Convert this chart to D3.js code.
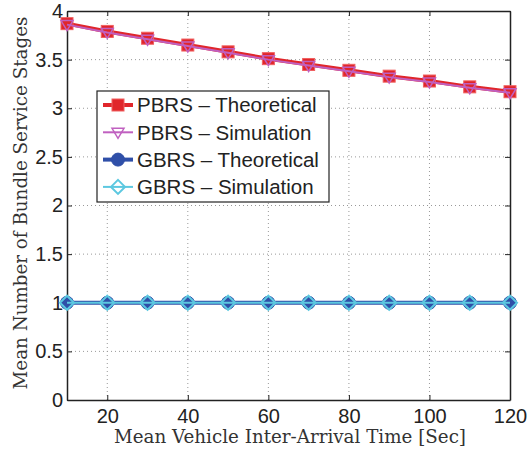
<!DOCTYPE html>
<html lang="en">
<head>
    <meta charset="UTF-8">
    <title>Mean Number of Bundle Service Stages</title>
    <script src="https://d3js.org/d3.v7.min.js"></script>
    <style>
        body { margin: 0; background: #fff; }
        .tick text { font-family: "Liberation Sans", Arial, sans-serif; font-size: 20px; fill: #222; }
        .axis-label { font-family: "DejaVu Serif", "Liberation Serif", serif; font-size: 18.3px; fill: #333; }
        .legend text { font-family: "Liberation Sans", Arial, sans-serif; font-size: 20.5px; fill: #222; }
        .grid line { stroke: #999; stroke-dasharray: 1,3; stroke-width: 1; }
    </style>
</head>
<body>
    <svg width="530" height="454"></svg>
    <script>
        // data
        const arrival = [10, 20, 30, 40, 50, 60, 70, 80, 90, 100, 110, 120];
        const pbrsTheory = [3.87, 3.79, 3.72, 3.65, 3.58, 3.51, 3.45, 3.39, 3.33, 3.28, 3.22, 3.17];
        const pbrsSim = [3.86, 3.78, 3.71, 3.64, 3.57, 3.50, 3.44, 3.38, 3.32, 3.27, 3.21, 3.16];
        const gbrsTheory = [1, 1, 1, 1, 1, 1, 1, 1, 1, 1, 1, 1];
        const gbrsSim = [1, 1, 1, 1, 1, 1, 1, 1, 1, 1, 1, 1];
        const xTicks = [20, 40, 60, 80, 100, 120];
        const yTicks = [0, 0.5, 1, 1.5, 2, 2.5, 3, 3.5, 4];

        const series = [
            { name: "PBRS \u2013 Theoretical", values: pbrsTheory, color: "#e0262b", width: 4, marker: "square" },
            { name: "PBRS \u2013 Simulation", values: pbrsSim, color: "#c060c0", width: 2, marker: "triangleDown" },
            { name: "GBRS \u2013 Theoretical", values: gbrsTheory, color: "#2f4fa8", width: 4, marker: "circle" },
            { name: "GBRS \u2013 Simulation", values: gbrsSim, color: "#5cc8e0", width: 2, marker: "diamond" }
        ];

        const svg = d3.select("svg");
        const m = { left: 67, right: 510, top: 11, bottom: 400 };

        const x = d3.scaleLinear().domain([10, 120]).range([m.left, m.right]);
        const y = d3.scaleLinear().domain([0, 4]).range([m.bottom, m.top]);

        // grid
        const grid = svg.append("g").attr("class", "grid");
        grid.selectAll(".gx").data(xTicks.filter(d => d < 120)).enter().append("line")
            .attr("x1", d => x(d)).attr("x2", d => x(d)).attr("y1", m.top).attr("y2", m.bottom);
        grid.selectAll(".gy").data(yTicks.filter(d => d > 0 && d < 4)).enter().append("line")
            .attr("x1", m.left).attr("x2", m.right).attr("y1", d => y(d)).attr("y2", d => y(d));

        // axes
        const fmt = d => String(d);
        svg.append("g").attr("transform", `translate(0,${m.bottom})`)
            .call(d3.axisBottom(x).tickValues(xTicks).tickFormat(fmt).tickSizeInner(-5).tickSizeOuter(0).tickPadding(9));
        svg.append("g").attr("transform", `translate(${m.left},0)`)
            .call(d3.axisLeft(y).tickValues(yTicks).tickFormat(fmt).tickSizeInner(-5).tickSizeOuter(0).tickPadding(4));
        svg.append("g").attr("transform", `translate(0,${m.top})`)
            .call(d3.axisTop(x).tickValues(xTicks).tickSizeInner(-5).tickSizeOuter(0).tickFormat(""));
        svg.append("g").attr("transform", `translate(${m.right},0)`)
            .call(d3.axisRight(y).tickValues(yTicks).tickSizeInner(-5).tickSizeOuter(0).tickFormat(""));
        svg.selectAll(".domain").attr("stroke", "#222").attr("stroke-width", 1.5);
        svg.selectAll(".tick line").attr("stroke", "#222");

        // markers
        function drawMarker(g, type, color, cx, cy) {
            if (type === "square") {
                g.append("rect").attr("x", cx - 6).attr("y", cy - 6).attr("width", 12).attr("height", 12)
                    .attr("fill", color).attr("stroke", "#f06060").attr("stroke-width", 1);
            } else if (type === "triangleDown") {
                g.append("path").attr("d", `M${cx - 6},${cy - 4}L${cx + 6},${cy - 4}L${cx},${cy + 6}Z`)
                    .attr("fill", "none").attr("stroke", color).attr("stroke-width", 1.5);
            } else if (type === "circle") {
                g.append("circle").attr("cx", cx).attr("cy", cy).attr("r", 6.5)
                    .attr("fill", color).attr("stroke", color).attr("stroke-width", 1);
            } else if (type === "diamond") {
                g.append("path").attr("d", `M${cx},${cy - 7}L${cx + 7},${cy}L${cx},${cy + 7}L${cx - 7},${cy}Z`)
                    .attr("fill", "none").attr("stroke", color).attr("stroke-width", 2);
            }
        }

        const line = d3.line().x(d => x(d[0])).y(d => y(d[1]));
        series.forEach(s => {
            const pts = arrival.map((a, i) => [a, s.values[i]]);
            const g = svg.append("g");
            g.append("path").datum(pts).attr("d", line)
                .attr("fill", "none").attr("stroke", s.color).attr("stroke-width", s.width);
            pts.forEach(p => drawMarker(g, s.marker, s.color, x(p[0]), y(p[1])));
        });

        // legend
        const legend = svg.append("g").attr("class", "legend");
        legend.append("rect").attr("x", 97).attr("y", 91).attr("width", 232).attr("height", 111)
            .attr("fill", "#fff").attr("stroke", "#222").attr("stroke-width", 1.2);
        series.forEach((s, i) => {
            const ly = 105 + i * 27.3;
            legend.append("line").attr("x1", 103).attr("x2", 133).attr("y1", ly).attr("y2", ly)
                .attr("stroke", s.color).attr("stroke-width", s.width);
            drawMarker(legend, s.marker, s.color, 118, ly);
            legend.append("text").attr("x", 137).attr("y", ly).attr("dy", "0.36em").text(s.name);
        });

        // axis labels
        svg.append("text").attr("class", "axis-label").attr("text-anchor", "middle")
            .attr("x", 290).attr("y", 443).text("Mean Vehicle Inter-Arrival Time [Sec]");
        svg.append("text").attr("class", "axis-label").attr("text-anchor", "middle")
            .attr("transform", "translate(27,203) rotate(-90)").text("Mean Number of Bundle Service Stages");
    </script>
</body>
</html>
